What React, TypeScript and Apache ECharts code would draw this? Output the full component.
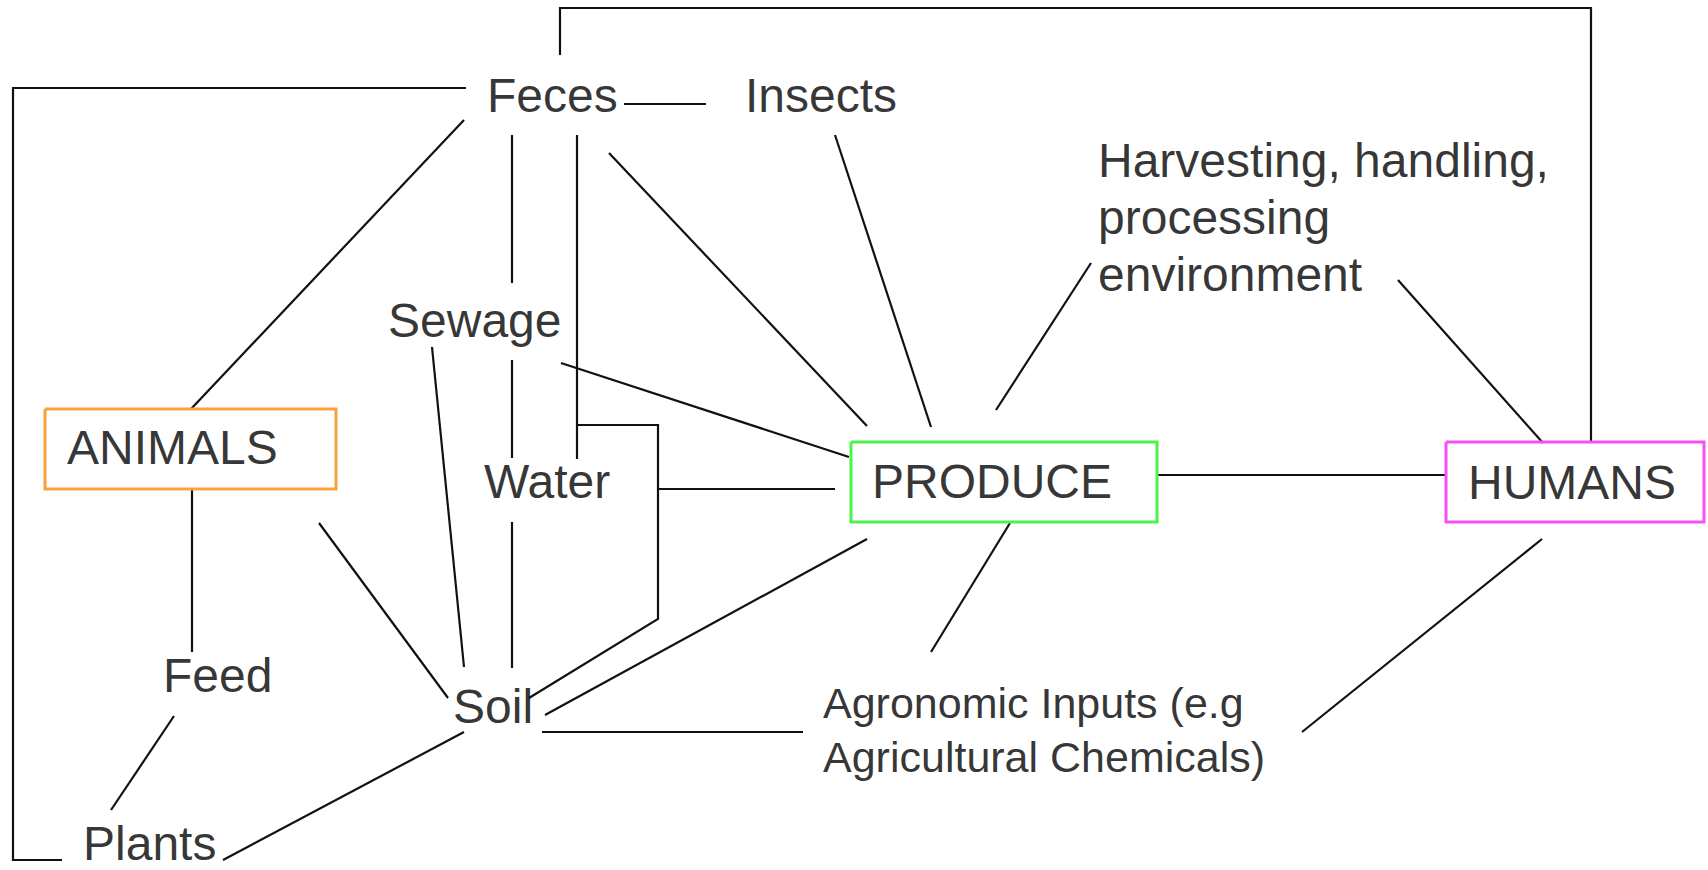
import React, { useEffect, useRef } from "react";
import * as echarts from "echarts";

const W = 1708;
const H = 870;

// Node labels: text, left x, centre y
const labelTexts = [
  "Feces",
  "Insects",
  "Harvesting, handling,\nprocessing\nenvironment",
  "Sewage",
  "ANIMALS",
  "Water",
  "PRODUCE",
  "HUMANS",
  "Feed",
  "Soil",
  "Agronomic Inputs (e.g\nAgricultural Chemicals)",
  "Plants",
];
const labelX = [487, 745, 1098, 388, 67, 484, 872, 1468, 163, 453, 823, 83];
const labelY = [95, 95.5, 217, 320, 447.5, 481, 481, 482, 675, 706, 729.5, 843];
const labelLines = [1, 1, 3, 1, 1, 1, 1, 1, 1, 1, 2, 1];
const labelSmall = [false, false, false, false, false, false, false, false, false, false, true, false];

// Connector paths (polylines)
const connectors: number[][][] = [
  [[560, 55], [560, 8], [1591, 8], [1591, 442]],
  [[466, 88], [13, 88], [13, 860], [62, 860]],
  [[624, 104], [706, 104]],
  [[464, 120], [191, 409]],
  [[512, 135], [512, 283]],
  [[577, 135], [577, 459]],
  [[577, 425], [658, 425], [658, 619], [529, 698]],
  [[658, 489], [835, 489]],
  [[609, 153], [867, 426]],
  [[835, 135], [931, 427]],
  [[561, 363], [849, 457]],
  [[432, 347], [464, 667]],
  [[512, 360], [512, 458]],
  [[512, 522], [512, 668]],
  [[192, 489], [192, 652]],
  [[174, 716], [111, 810]],
  [[319, 523], [448, 698]],
  [[545, 715], [867, 539]],
  [[542, 732], [803, 732]],
  [[464, 732], [223, 860]],
  [[1091, 263], [996, 410]],
  [[1398, 280], [1543, 443]],
  [[1157, 475], [1446, 475]],
  [[1542, 539], [1302, 732]],
  [[1010, 523], [931, 652]],
];

// Boxes: x0, y0, x1, y1
const boxNames = ["ANIMALS", "PRODUCE", "HUMANS"];
const boxRects = [
  [45, 409, 336, 489],
  [851, 442, 1157, 522],
  [1446, 442, 1704, 522],
];
const boxColors = ["#F9A23A", "#4DF24D", "#F550F5"];

export default function App() {
  const ref = useRef<HTMLDivElement>(null);

  useEffect(() => {
    if (!ref.current) return;
    const chart = echarts.init(ref.current, undefined, { renderer: "svg" });

    const font = "'Liberation Sans', Arial, sans-serif";

    const labelData = labelTexts.map((t, i) => ({
      name: t,
      value: [labelX[i], labelY[i]],
      label: labelSmall[i]
        ? { fontSize: 43, lineHeight: 54 }
        : { fontSize: 48, lineHeight: labelLines[i] > 1 ? 57 : 40 },
    }));

    const boxData = boxRects.map((r, i) => ({
      name: boxNames[i],
      coords: [
        [r[0], r[1]],
        [r[2], r[1]],
        [r[2], r[3]],
        [r[0], r[3]],
        [r[0], r[1]],
      ],
      lineStyle: { color: boxColors[i], width: 3, opacity: 1 },
    }));

    chart.setOption({
      animation: false,
      backgroundColor: "#ffffff",
      grid: { left: 0, right: 0, top: 0, bottom: 0, containLabel: false },
      xAxis: { type: "value", min: 0, max: W, show: false },
      yAxis: { type: "value", min: 0, max: H, inverse: true, show: false },
      tooltip: { show: false },
      series: [
        {
          type: "lines",
          coordinateSystem: "cartesian2d",
          polyline: true,
          silent: true,
          lineStyle: { color: "#111111", width: 2.2, opacity: 1 },
          data: connectors.map((c) => ({ coords: c })),
          z: 1,
        },
        {
          type: "lines",
          coordinateSystem: "cartesian2d",
          polyline: true,
          silent: true,
          data: boxData,
          z: 2,
        },
        {
          type: "scatter",
          silent: true,
          symbolSize: 1,
          itemStyle: { color: "rgba(0,0,0,0)" },
          data: labelData,
          z: 3,
          label: {
            show: true,
            position: "inside",
            align: "left",
            verticalAlign: "middle",
            color: "#000000",
            fontFamily: font,
            formatter: (p: any) => p.name,
          },
          labelLayout: { hideOverlap: false },
        },
      ],
    });

    return () => chart.dispose();
  }, []);

  return (
    <div
      ref={ref}
      style={{
        position: "absolute",
        left: 0,
        top: 0,
        width: W,
        height: H,
        background: "#ffffff",
      }}
    />
  );
}
